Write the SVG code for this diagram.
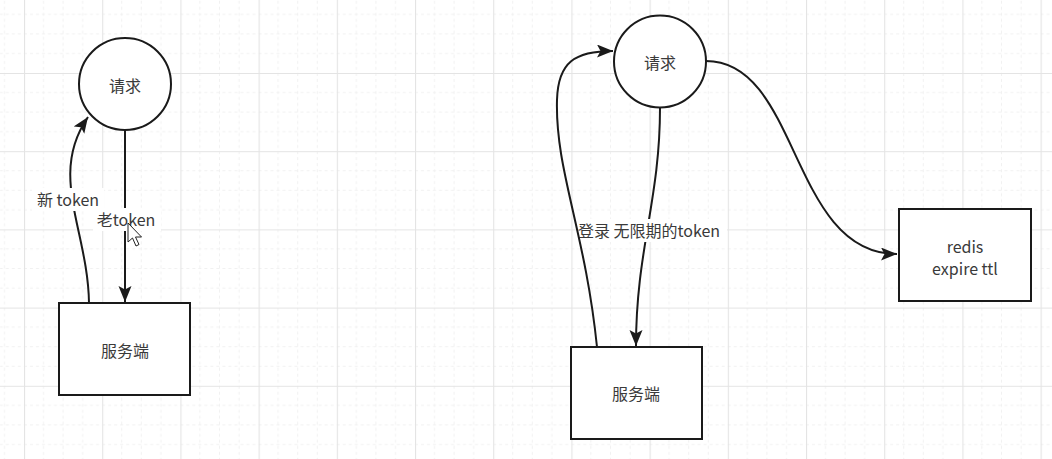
<svg xmlns="http://www.w3.org/2000/svg" width="1052" height="459" viewBox="0 0 1052 459">
<style>
.shape{fill:#fff;stroke:#1a1a1a;stroke-width:2}
.edge{fill:none;stroke:#1a1a1a;stroke-width:2}
.t{font-family:"Noto Sans CJK SC","Noto Sans",sans-serif;font-size:16px;fill:#3a3a3a;text-anchor:middle;dominant-baseline:central}
.lbg{fill:#fff}
</style>
<defs>
<pattern id="grid" patternUnits="userSpaceOnUse" x="24" y="-5.2" width="78.2" height="78.2">
<g stroke="#f1f1f1" stroke-width="1" stroke-dasharray="3 3" fill="none">
<line x1="19.55" y1="0" x2="19.55" y2="78.2"/><line x1="39.1" y1="0" x2="39.1" y2="78.2"/><line x1="58.65" y1="0" x2="58.65" y2="78.2"/>
<line x1="0" y1="19.55" x2="78.2" y2="19.55"/><line x1="0" y1="39.1" x2="78.2" y2="39.1"/><line x1="0" y1="58.65" x2="78.2" y2="58.65"/>
</g>
<g stroke="#e4e4e4" stroke-width="1.2" fill="none">
<line x1="0.5" y1="0" x2="0.5" y2="78.2"/><line x1="0" y1="0.5" x2="78.2" y2="0.5"/>
</g>
</pattern>
<marker id="arr" markerUnits="userSpaceOnUse" markerWidth="18" markerHeight="14" refX="16" refY="6.5" orient="auto">
<path d="M0,0 L16,6.5 L0,13 L3.5,6.5 z" fill="#1a1a1a"/>
</marker>
</defs>
<rect width="1052" height="459" fill="#fff"/>
<rect width="1052" height="459" fill="url(#grid)"/>

<g id="connectors">
<path class="edge" d="M125 131 L125 302" marker-end="url(#arr)"/>
<path class="edge" d="M89 303 C88 230, 48 175, 88 117" marker-end="url(#arr)"/>
<path class="edge" d="M660 108 C660 200, 636 250, 636 346" marker-end="url(#arr)"/>
<path class="edge" d="M706 61 C800 61, 790 254, 897 254" marker-end="url(#arr)"/>
<rect class="lbg" x="93" y="208" width="68" height="23"/>
<text class="t" x="126" y="219">老token</text>
<rect class="lbg" x="32" y="188" width="72" height="23"/>
<text class="t" x="68" y="199">新 token</text>
<rect class="lbg" x="583" y="219" width="144" height="23"/>
<text class="t" x="649" y="230">登录 无限期的token</text>
<path class="edge" d="M597 347 C585 230, 555 170, 557 100 C558 62, 575 51, 613 51" marker-end="url(#arr)"/>
</g>

<g id="req-left">
<circle class="shape" cx="125" cy="84" r="46"/>
<text class="t" x="125" y="85">请求</text>
</g>
<g id="server-left">
<rect class="shape" x="59" y="303" width="131" height="92"/>
<text class="t" x="125" y="350">服务端</text>
</g>
<g id="req-right">
<circle class="shape" cx="660" cy="61.5" r="46"/>
<text class="t" x="660" y="62">请求</text>
</g>
<g id="server-right">
<rect class="shape" x="571" y="347" width="131" height="92"/>
<text class="t" x="636" y="393">服务端</text>
</g>
<g id="redis">
<rect class="shape" x="899" y="209" width="132" height="92"/>
<text class="t" x="965" y="246">redis</text>
<text class="t" x="965" y="268">expire ttl</text>
</g>
<g id="cursor">
<path d="M128 223 L128 242 L132.5 238 L136 246 L139 244.5 L135.5 237 L141.5 237 z" fill="#fff" stroke="#222" stroke-width="1"/>
</g>
</svg>
